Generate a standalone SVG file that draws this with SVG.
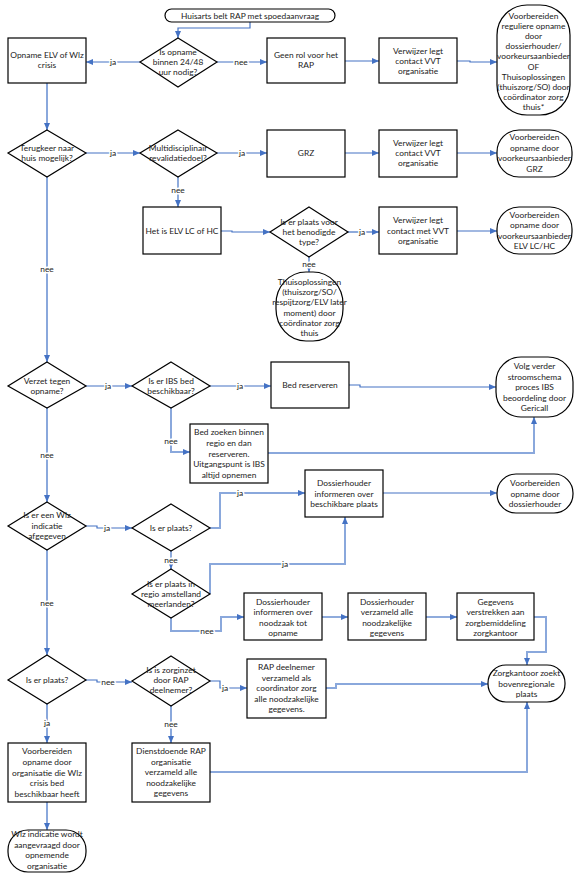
<svg xmlns="http://www.w3.org/2000/svg" width="588" height="881" viewBox="0 0 588 881">
<style>
.n{fill:#fff;stroke:#000;stroke-width:1.2}
.t{font-family:Lato,"Liberation Sans",sans-serif;font-size:8.4px;fill:#222;text-anchor:middle}
.c{fill:none;stroke:#4472C4;stroke-width:1.2}
.k{fill:none;stroke:#8AA8DC;stroke-width:2}
.l{font-family:Lato,"Liberation Sans",sans-serif;font-size:8.4px;fill:#222;text-anchor:middle;stroke:#fff;stroke-width:3;paint-order:stroke}
</style>
<defs>
<marker id="a" markerUnits="userSpaceOnUse" markerWidth="7" markerHeight="7" refX="7" refY="3.5" orient="auto"><path d="M0,0.5 L7,3.5 L0,6.5 z" fill="#4472C4"/></marker>
</defs>
<rect width="588" height="881" fill="#fff"/>

<g id="connectors">
<path class="c" d="M250,22 V28 H178 V38" marker-end="url(#a)"/>
<path class="c" d="M140,62 H86" marker-end="url(#a)"/>
<path class="c" d="M217,62 H267" marker-end="url(#a)"/>
<path class="c" d="M345,61 H379" marker-end="url(#a)"/>
<path class="c" d="M457,61 H470 V62 H497" marker-end="url(#a)"/>
<path class="k" d="M47,83 V130" marker-end="url(#a)"/>
<path class="c" d="M86,153 H140" marker-end="url(#a)"/>
<path class="c" d="M217,153 H267" marker-end="url(#a)"/>
<path class="c" d="M345,153 H379" marker-end="url(#a)"/>
<path class="c" d="M457,153 H497" marker-end="url(#a)"/>
<path class="c" d="M178,177 V207" marker-end="url(#a)"/>
<path class="c" d="M221,231 H232 V232 H270" marker-end="url(#a)"/>
<path class="c" d="M348,232 H379" marker-end="url(#a)"/>
<path class="c" d="M457,231 H497" marker-end="url(#a)"/>
<path class="c" d="M309,257 V272" marker-end="url(#a)"/>
<path class="k" d="M47,177 V362" marker-end="url(#a)"/>
<path class="c" d="M86,386 H132" marker-end="url(#a)"/>
<path class="c" d="M210,386 H271" marker-end="url(#a)"/>
<path class="c" d="M349,385 H360 V387 H496" marker-end="url(#a)"/>
<path class="k" d="M171,408 V452 H190" marker-end="url(#a)"/>
<path class="k" d="M268,453 H534 V417" marker-end="url(#a)"/>
<path class="k" d="M47,408 V502" marker-end="url(#a)"/>
<path class="c" d="M86,526 H97 V528 H132" marker-end="url(#a)"/>
<path class="k" d="M210,528 H220 V493 H305" marker-end="url(#a)"/>
<path class="c" d="M383,493 H497" marker-end="url(#a)"/>
<path class="c" d="M171,551 V569" marker-end="url(#a)"/>
<path class="k" d="M210,594 V564 H345 V517" marker-end="url(#a)"/>
<path class="k" d="M171,618 V631 H221 V617 H244" marker-end="url(#a)"/>
<path class="c" d="M322,617 H348" marker-end="url(#a)"/>
<path class="c" d="M426,617 H457" marker-end="url(#a)"/>
<path class="k" d="M534,617 H546 V652 H527 V665" marker-end="url(#a)"/>
<path class="k" d="M47,550 V655" marker-end="url(#a)"/>
<path class="c" d="M86,680 H97 V682 H132" marker-end="url(#a)"/>
<path class="c" d="M210,681 H220 V688 H247" marker-end="url(#a)"/>
<path class="k" d="M326,688 H336 V684 H488" marker-end="url(#a)"/>
<path class="k" d="M171,706 V743" marker-end="url(#a)"/>
<path class="k" d="M47,704 V743" marker-end="url(#a)"/>
<path class="k" d="M210,772 H527 V702" marker-end="url(#a)"/>
<path class="k" d="M47,802 V830" marker-end="url(#a)"/>
<text class="l" x="113" y="65">ja</text>
<text class="l" x="241" y="65">nee</text>
<text class="l" x="113" y="156">ja</text>
<text class="l" x="242" y="156">ja</text>
<text class="l" x="178" y="193">nee</text>
<text class="l" x="362" y="235">ja</text>
<text class="l" x="309" y="267">nee</text>
<text class="l" x="47" y="272">nee</text>
<text class="l" x="108" y="389">ja</text>
<text class="l" x="240" y="389">ja</text>
<text class="l" x="171" y="444">nee</text>
<text class="l" x="47" y="458">nee</text>
<text class="l" x="107" y="531">ja</text>
<text class="l" x="240" y="496">ja</text>
<text class="l" x="171" y="563">nee</text>
<text class="l" x="285" y="567">ja</text>
<text class="l" x="207" y="634">nee</text>
<text class="l" x="47" y="606">nee</text>
<text class="l" x="108" y="685">nee</text>
<text class="l" x="225" y="691">ja</text>
<text class="l" x="171" y="727">nee</text>
<text class="l" x="47" y="726">ja</text>
</g>

<g id="start"><rect class="n" x="165" y="9" width="170" height="13" rx="6.5"/><text class="t" x="250" y="18.5">Huisarts belt RAP met spoedaanvraag</text></g>

<g id="d1"><polygon class="n" points="178,38 217,62 178,87 140,62"/><text class="t" x="178" y="55">Is opname</text><text class="t" x="178" y="65">binnen 24/48</text><text class="t" x="178" y="75">uur nodig?</text></g>
<g id="b1"><rect class="n" x="8" y="38" width="78" height="45"/><text class="t" x="47" y="58">Opname ELV of Wlz</text><text class="t" x="47" y="68">crisis</text></g>
<g id="b2"><rect class="n" x="267" y="38" width="78" height="45"/><text class="t" x="306" y="58">Geen rol voor het</text><text class="t" x="306" y="68">RAP</text></g>
<g id="b3"><rect class="n" x="379" y="38" width="78" height="45"/><text class="t" x="418" y="54">Verwijzer legt</text><text class="t" x="418" y="64">contact VVT</text><text class="t" x="418" y="74">organisatie</text></g>
<g id="t1"><rect class="n" x="497" y="5" width="73" height="110" rx="30" ry="30"/>
<text class="t" x="533.5" y="19">Voorbereiden</text><text class="t" x="533.5" y="29.1">reguliere opname</text><text class="t" x="533.5" y="39.2">door</text><text class="t" x="533.5" y="49.3">dossierhouder/</text><text class="t" x="533.5" y="59.4">voorkeursaanbieder</text><text class="t" x="533.5" y="69.5">OF</text><text class="t" x="533.5" y="79.6">Thuisoplossingen</text><text class="t" x="533.5" y="89.7">(thuiszorg/SO) door</text><text class="t" x="533.5" y="99.8">coördinator zorg</text><text class="t" x="533.5" y="109.9">thuis*</text></g>

<g id="d2"><polygon class="n" points="47,130 86,153 47,177 8,153"/><text class="t" x="47" y="151">Terugkeer naar</text><text class="t" x="47" y="161">huis mogelijk?</text></g>
<g id="d3"><polygon class="n" points="178,130 217,153 178,177 140,153"/><text class="t" x="178" y="151">Multidisciplinair</text><text class="t" x="178" y="161">revalidatiedoel?</text></g>
<g id="b4"><rect class="n" x="267" y="130" width="78" height="47"/><text class="t" x="306" y="156">GRZ</text></g>
<g id="b5"><rect class="n" x="379" y="130" width="78" height="47"/><text class="t" x="418" y="146">Verwijzer legt</text><text class="t" x="418" y="156">contact VVT</text><text class="t" x="418" y="166">organisatie</text></g>
<g id="t2"><rect class="n" x="497" y="130" width="75" height="47" rx="22" ry="22"/><text class="t" x="534.5" y="140">Voorbereiden</text><text class="t" x="534.5" y="150.7">opname door</text><text class="t" x="534.5" y="161.3">voorkeursaanbieder</text><text class="t" x="534.5" y="172">GRZ</text></g>

<g id="b6"><rect class="n" x="143" y="207" width="78" height="47"/><text class="t" x="182" y="234">Het is ELV LC of HC</text></g>
<g id="d4"><polygon class="n" points="309,207 348,232 309,257 270,232"/><text class="t" x="309" y="225">Is er plaats voor</text><text class="t" x="309" y="235">het benodigde</text><text class="t" x="309" y="245">type?</text></g>
<g id="b7"><rect class="n" x="379" y="207" width="78" height="47"/><text class="t" x="418" y="223">Verwijzer legt</text><text class="t" x="418" y="234">contact met VVT</text><text class="t" x="418" y="244">organisatie</text></g>
<g id="t3"><rect class="n" x="497" y="207" width="75" height="47" rx="22" ry="22"/><text class="t" x="534.5" y="218">Voorbereiden</text><text class="t" x="534.5" y="228.3">opname door</text><text class="t" x="534.5" y="238.7">voorkeursaanbieder</text><text class="t" x="534.5" y="249">ELV LC/HC</text></g>
<g id="t4"><rect class="n" x="276" y="272" width="67" height="69" rx="30" ry="32"/><text class="t" x="309.5" y="285">Thuisoplossingen</text><text class="t" x="309.5" y="295.2">(thuiszorg/SO/</text><text class="t" x="309.5" y="305.4">respijtzorg/ELV later</text><text class="t" x="309.5" y="315.6">moment) door</text><text class="t" x="309.5" y="325.8">coördinator zorg</text><text class="t" x="309.5" y="336">thuis</text></g>

<g id="d5"><polygon class="n" points="47,362 86,386 47,408 8,386"/><text class="t" x="47" y="384">Verzet tegen</text><text class="t" x="47" y="394">opname?</text></g>
<g id="d6"><polygon class="n" points="171,362 210,386 171,408 132,386"/><text class="t" x="171" y="384">Is er IBS bed</text><text class="t" x="171" y="394">beschikbaar?</text></g>
<g id="b8"><rect class="n" x="271" y="362" width="78" height="46"/><text class="t" x="310" y="388">Bed reserveren</text></g>
<g id="t5"><rect class="n" x="496" y="357" width="77" height="60" rx="25" ry="25"/><text class="t" x="534.5" y="369">Volg verder</text><text class="t" x="534.5" y="379.5">stroomschema</text><text class="t" x="534.5" y="390">proces IBS</text><text class="t" x="534.5" y="400.5">beoordeling door</text><text class="t" x="534.5" y="411">Gericall</text></g>
<g id="b9"><rect class="n" x="190" y="424" width="78" height="59"/><text class="t" x="229" y="435">Bed zoeken binnen</text><text class="t" x="229" y="445.8">regio en dan</text><text class="t" x="229" y="456.5">reserveren.</text><text class="t" x="229" y="467.3">Uitgangspunt is IBS</text><text class="t" x="229" y="478">altijd opnemen</text></g>

<g id="d7"><polygon class="n" points="47,502 86,526 47,550 8,526"/><text class="t" x="47" y="518">Is er een Wlz</text><text class="t" x="47" y="529">indicatie</text><text class="t" x="47" y="539">afgegeven</text></g>
<g id="d8"><polygon class="n" points="171,504 210,528 171,551 132,528"/><text class="t" x="171" y="531">Is er plaats?</text></g>
<g id="b10"><rect class="n" x="305" y="470" width="78" height="47"/><text class="t" x="344" y="486">Dossierhouder</text><text class="t" x="344" y="496.5">informeren over</text><text class="t" x="344" y="507">beschikbare plaats</text></g>
<g id="t6"><rect class="n" x="497" y="474" width="76" height="39" rx="19" ry="19"/><text class="t" x="535" y="486">Voorbereiden</text><text class="t" x="535" y="496.5">opname door</text><text class="t" x="535" y="507">dossierhouder</text></g>
<g id="d9"><polygon class="n" points="171,569 210,594 171,618 132,594"/><text class="t" x="171" y="587">Is er plaats in</text><text class="t" x="171" y="597">regio amstelland</text><text class="t" x="171" y="607">meerlanden?</text></g>
<g id="b11"><rect class="n" x="244" y="593" width="78" height="47"/><text class="t" x="283" y="605">Dossierhouder</text><text class="t" x="283" y="615.3">informeren over</text><text class="t" x="283" y="625.7">noodzaak tot</text><text class="t" x="283" y="636">opname</text></g>
<g id="b12"><rect class="n" x="348" y="593" width="78" height="47"/><text class="t" x="387" y="605">Dossierhouder</text><text class="t" x="387" y="615.3">verzameld alle</text><text class="t" x="387" y="625.7">noodzakelijke</text><text class="t" x="387" y="636">gegevens</text></g>
<g id="b13"><rect class="n" x="457" y="593" width="77" height="47"/><text class="t" x="495.5" y="605">Gegevens</text><text class="t" x="495.5" y="615.3">verstrekken aan</text><text class="t" x="495.5" y="625.7">zorgbemiddeling</text><text class="t" x="495.5" y="636">zorgkantoor</text></g>
<g id="t7"><rect class="n" x="488" y="665" width="77" height="37" rx="18" ry="18"/><text class="t" x="526.5" y="676">Zorgkantoor zoekt</text><text class="t" x="526.5" y="686.5">bovenregionale</text><text class="t" x="526.5" y="697">plaats</text></g>

<g id="d10"><polygon class="n" points="47,655 86,680 47,704 8,680"/><text class="t" x="47" y="683">Is er plaats?</text></g>
<g id="d11"><polygon class="n" points="171,656 210,681 171,706 132,681"/><text class="t" x="171" y="673">Is is zorginzet</text><text class="t" x="171" y="683">door RAP</text><text class="t" x="171" y="693">deelnemer?</text></g>
<g id="b14"><rect class="n" x="247" y="659" width="79" height="59"/><text class="t" x="286.5" y="670">RAP deelnemer</text><text class="t" x="286.5" y="680.5">verzameld als</text><text class="t" x="286.5" y="691">coordinator zorg</text><text class="t" x="286.5" y="701.5">alle noodzakelijke</text><text class="t" x="286.5" y="712">gegevens.</text></g>
<g id="b15"><rect class="n" x="132" y="743" width="78" height="59"/><text class="t" x="171" y="754">Dienstdoende RAP</text><text class="t" x="171" y="764.5">organisatie</text><text class="t" x="171" y="775">verzameld alle</text><text class="t" x="171" y="785.5">noodzakelijke</text><text class="t" x="171" y="796">gegevens</text></g>
<g id="b16"><rect class="n" x="8" y="743" width="78" height="59"/><text class="t" x="47" y="754">Voorbereiden</text><text class="t" x="47" y="764.8">opname door</text><text class="t" x="47" y="775.5">organisatie die Wlz</text><text class="t" x="47" y="786.3">crisis bed</text><text class="t" x="47" y="797">beschikbaar heeft</text></g>
<g id="t8"><rect class="n" x="8" y="830" width="78" height="42" rx="20" ry="20"/><text class="t" x="47" y="837">Wlz indicatie wordt</text><text class="t" x="47" y="847.7">aangevraagd door</text><text class="t" x="47" y="858.3">opnemende</text><text class="t" x="47" y="869">organisatie</text></g>
</svg>
